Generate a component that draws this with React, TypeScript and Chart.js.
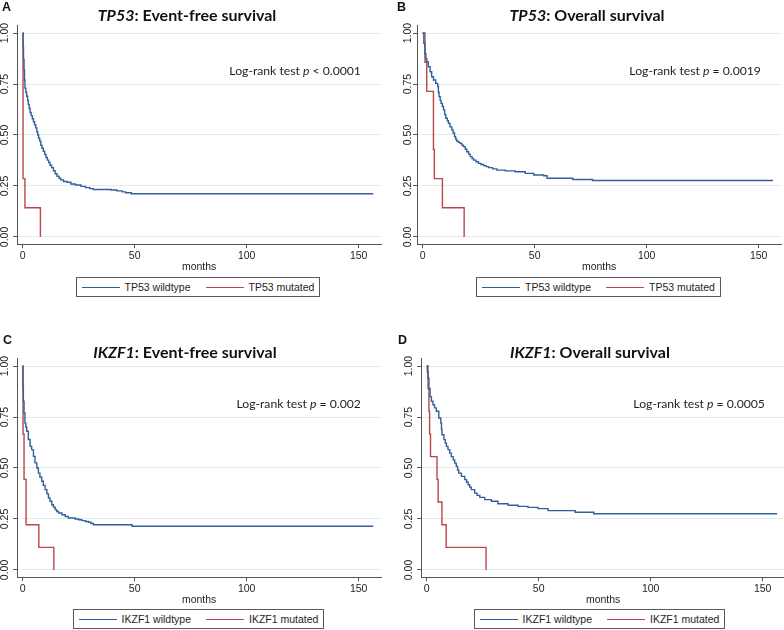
import React, { useEffect, useRef } from 'react';
import { Chart, registerables } from 'chart.js';

Chart.register(...registerables);

// ---------------- data ----------------
const xTickValues = [0, 50, 100, 150];
const yTickValues = [0, 0.25, 0.5, 0.75, 1];
const yTickLabels = ['0.00', '0.25', '0.50', '0.75', '1.00'];
const xAxisTitle = 'months';

const panelLetters = ['A', 'B', 'C', 'D'];
const panelGenes = ['TP53', 'TP53', 'IKZF1', 'IKZF1'];
const panelEndpoints = ['Event-free survival', 'Overall survival', 'Event-free survival', 'Overall survival'];
const logRankPValues = ['< 0.0001', '= 0.0019', '= 0.002', '= 0.0005'];
const wildtypeLabels = ['TP53 wildtype', 'TP53 wildtype', 'IKZF1 wildtype', 'IKZF1 wildtype'];
const mutatedLabels = ['TP53 mutated', 'TP53 mutated', 'IKZF1 mutated', 'IKZF1 mutated'];

// A: TP53 event-free survival
const tp53EfsWildTime = [0, 0.15, 0.35, 0.6, 0.8, 1.0, 1.4, 1.8, 2.2, 2.5, 2.9, 3.3, 3.8, 4.3, 4.8, 5.3, 5.8, 6.3, 6.7, 7.1, 7.6, 8.1, 8.6, 9.2, 9.8, 10.4, 11.0, 11.6, 12.2, 12.9, 13.7, 14.5, 15.3, 16.2, 17.0, 18.2, 19.8, 21.5, 23.5, 26.0, 28.0, 30.0, 31.5, 39.5, 42.0, 44.5, 46.0, 48.5, 156.5];
const tp53EfsWildSurv = [1, 0.93, 0.87, 0.82, 0.77, 0.73, 0.71, 0.69, 0.67, 0.65, 0.63, 0.61, 0.595, 0.58, 0.565, 0.55, 0.535, 0.516, 0.5, 0.484, 0.47, 0.45, 0.435, 0.42, 0.405, 0.39, 0.377, 0.365, 0.352, 0.34, 0.325, 0.31, 0.298, 0.288, 0.28, 0.272, 0.268, 0.26, 0.255, 0.248, 0.242, 0.237, 0.233, 0.23, 0.226, 0.221, 0.217, 0.212, 0.212];
const tp53EfsMutTime = [0, 0.15, 1.0, 7.9];
const tp53EfsMutSurv = [1, 0.286, 0.143, 0];

// B: TP53 overall survival
const tp53OsWildTime = [0, 0.5, 1, 1.4, 1.8, 2.5, 3.3, 4, 4.8, 5.8, 6.7, 7.0, 7.3, 7.8, 8.2, 8.8, 9.3, 9.8, 10.3, 11.0, 11.5, 12.2, 13, 13.6, 14.2, 14.7, 15.2, 16.0, 16.7, 17.5, 18.2, 19.0, 19.7, 20.5, 21.2, 22.0, 22.7, 23.8, 24.9, 26.0, 27.2, 28.3, 29.4, 31.2, 33.1, 36.9, 41.3, 45.8, 49.6, 54, 55.5, 67, 75.8, 156.4];
const tp53OsWildSurv = [1, 0.95, 0.9, 0.875, 0.86, 0.835, 0.81, 0.786, 0.77, 0.753, 0.737, 0.71, 0.688, 0.67, 0.655, 0.64, 0.623, 0.6, 0.582, 0.57, 0.557, 0.54, 0.525, 0.51, 0.492, 0.48, 0.47, 0.464, 0.459, 0.45, 0.443, 0.43, 0.418, 0.406, 0.394, 0.385, 0.377, 0.369, 0.361, 0.355, 0.35, 0.345, 0.34, 0.334, 0.328, 0.324, 0.32, 0.312, 0.304, 0.3, 0.288, 0.282, 0.277, 0.277];
const tp53OsMutTime = [0, 1.0, 1.8, 4.8, 5.2, 8.8, 18.5];
const tp53OsMutSurv = [1, 0.857, 0.714, 0.429, 0.286, 0.143, 0];

// C: IKZF1 event-free survival
const ikzf1EfsWildTime = [0, 0.1, 0.3, 0.6, 1, 1.4, 1.8, 2.5, 3.3, 4, 4.8, 5.5, 6.3, 7, 7.7, 8.5, 9.2, 10, 10.8, 11.5, 12.2, 13, 13.7, 14.5, 15.2, 16, 17.5, 19, 20.4, 23.4, 25, 26.4, 28, 29.4, 30.5, 31.6, 48.8, 156.5];
const ikzf1EfsWildSurv = [1, 0.9, 0.827, 0.77, 0.72, 0.7, 0.68, 0.64, 0.606, 0.59, 0.557, 0.525, 0.5, 0.475, 0.455, 0.435, 0.415, 0.394, 0.373, 0.353, 0.337, 0.32, 0.308, 0.296, 0.287, 0.279, 0.271, 0.262, 0.255, 0.25, 0.246, 0.242, 0.238, 0.234, 0.228, 0.222, 0.214, 0.214];
const ikzf1EfsMutTime = [0, 0.15, 0.6, 1.5, 7.2, 13.9];
const ikzf1EfsMutSurv = [1, 0.667, 0.444, 0.222, 0.111, 0];

// D: IKZF1 overall survival
const ikzf1OsWildTime = [0, 0.3, 0.6, 1, 1.5, 2.1, 2.8, 3.5, 4.3, 5.4, 6.3, 6.6, 6.8, 7.7, 8.3, 8.8, 9.5, 10.3, 11, 11.8, 12.5, 13.2, 13.8, 14.3, 15.5, 17, 17.8, 18.5, 19.2, 19.9, 21.4, 22.5, 23.7, 25.9, 28.9, 31.8, 36.3, 40.8, 45.2, 49.7, 54.2, 66.3, 74.6, 156.4];
const ikzf1OsWildSurv = [1, 0.97, 0.94, 0.89, 0.85, 0.827, 0.81, 0.795, 0.778, 0.745, 0.72, 0.69, 0.663, 0.639, 0.622, 0.606, 0.59, 0.573, 0.556, 0.54, 0.524, 0.508, 0.49, 0.475, 0.459, 0.443, 0.43, 0.418, 0.406, 0.394, 0.377, 0.366, 0.356, 0.345, 0.337, 0.325, 0.317, 0.312, 0.307, 0.301, 0.291, 0.283, 0.276, 0.276];
const ikzf1OsMutTime = [0, 0.6, 1.0, 1.3, 1.7, 4.6, 5.1, 6.8, 8.7, 26.5];
const ikzf1OsMutSurv = [1, 0.889, 0.778, 0.667, 0.556, 0.444, 0.333, 0.222, 0.111, 0];

const wildTimes = [tp53EfsWildTime, tp53OsWildTime, ikzf1EfsWildTime, ikzf1OsWildTime];
const wildSurvs = [tp53EfsWildSurv, tp53OsWildSurv, ikzf1EfsWildSurv, ikzf1OsWildSurv];
const mutTimes = [tp53EfsMutTime, tp53OsMutTime, ikzf1EfsMutTime, ikzf1OsMutTime];
const mutSurvs = [tp53EfsMutSurv, tp53OsMutSurv, ikzf1EfsMutSurv, ikzf1OsMutSurv];

// ---------------- style / layout ----------------
const BLUE = '#30609a';
const RED = '#b9474e';
const AXIS = '#555555';
const GRID = '#e2ebef';
const TEXT = '#1e1e1e';
const TICK_FONT_FAMILY = '"Liberation Sans", Arial, sans-serif';
const X_MIN = -2.5;
const X_MAX = 160;
const Y_MIN = -0.035;
const Y_MAX = 1.035;

type Layout = {
  left: number; top: number; width: number; height: number;
  padL: number; padR: number; padT: number; padB: number;
  yLabelX: number;
  titleX: number; titleTop: number;
  letterX: number; letterTop: number;
  legendLeft: number; legendTop: number; legendWidth: number;
};

const layouts: Layout[] = [
  { left: 0, top: 20, width: 392, height: 256, padL: 13.1, padR: 10.9, padT: 5.9, padB: 3.9, yLabelX: 5.5,
    titleX: 187, titleTop: 6.6, letterX: 2, letterTop: 1.4, legendLeft: 76, legendTop: 277, legendWidth: 244 },
  { left: 392, top: 20, width: 392, height: 256, padL: 21.1, padR: 2.9, padT: 5.9, padB: 3.9, yLabelX: 16.3,
    titleX: 587, titleTop: 6.6, letterX: 397, letterTop: 1.4, legendLeft: 476, legendTop: 277, legendWidth: 245 },
  { left: 0, top: 353, width: 392, height: 256, padL: 13.1, padR: 10.9, padT: 5.9, padB: 3.9, yLabelX: 5.5,
    titleX: 185, titleTop: 343.7, letterX: 3, letterTop: 334.4, legendLeft: 73, legendTop: 609, legendWidth: 251 },
  { left: 392, top: 353, width: 394, height: 256, padL: 25.1, padR: 0.9, padT: 5.9, padB: 3.9, yLabelX: 16.7,
    titleX: 590, titleTop: 343.7, letterX: 398, letterTop: 334.4, legendLeft: 474, legendTop: 609, legendWidth: 251 },
];

function zip(t: number[], s: number[]) {
  const n = Math.min(t.length, s.length);
  const out: { x: number; y: number }[] = [];
  for (let i = 0; i < n; i++) out.push({ x: t[i], y: s[i] });
  return out;
}

const yLabelPlugin = {
  id: 'yLabels',
  afterDraw(chart: any, _args: any, opts: any) {
    const ys = chart.scales.y;
    const ctx = chart.ctx;
    ctx.save();
    ctx.font = `10.5px ${TICK_FONT_FAMILY}`;
    ctx.fillStyle = TEXT;
    ctx.textAlign = 'center';
    ctx.textBaseline = 'middle';
    yTickValues.forEach((v, i) => {
      const py = ys.getPixelForValue(v);
      ctx.save();
      ctx.translate(opts.x, py);
      ctx.rotate(-Math.PI / 2);
      ctx.fillText(yTickLabels[i], 0, 0);
      ctx.restore();
    });
    ctx.restore();
  },
};

const logRankPlugin = {
  id: 'logRank',
  afterDatasetsDraw(chart: any, _args: any, opts: any) {
    const ctx = chart.ctx;
    const right = chart.scales.x.getPixelForValue(opts.atX);
    const y = chart.scales.y.getPixelForValue(opts.atY);
    const normal = '12.2px Lato, "Open Sans", sans-serif';
    const italic = 'italic 12.2px Lato, "Open Sans", sans-serif';
    const parts: [string, string][] = [['Log-rank test ', normal], ['p', italic], [' ' + opts.pText, normal]];
    ctx.save();
    ctx.fillStyle = TEXT;
    ctx.textBaseline = 'middle';
    ctx.textAlign = 'left';
    let total = 0;
    parts.forEach(([t, f]) => { ctx.font = f; total += ctx.measureText(t).width; });
    let x = right - total;
    parts.forEach(([t, f]) => { ctx.font = f; ctx.fillText(t, x, y); x += ctx.measureText(t).width; });
    ctx.restore();
  },
};

function Panel({ idx }: { idx: number }) {
  const ref = useRef<HTMLCanvasElement | null>(null);
  const L = layouts[idx];
  useEffect(() => {
    if (!ref.current) return;
    const tickFont = { family: TICK_FONT_FAMILY, size: 10.5, lineHeight: 1 };
    const chart = new Chart(ref.current, {
      type: 'line',
      data: {
        datasets: [
          {
            label: wildtypeLabels[idx],
            data: zip(wildTimes[idx], wildSurvs[idx]),
            borderColor: BLUE,
            borderWidth: 1.4,
            stepped: true,
            pointRadius: 0,
            fill: false,
          },
          {
            label: mutatedLabels[idx],
            data: zip(mutTimes[idx], mutSurvs[idx]),
            borderColor: RED,
            borderWidth: 1.4,
            stepped: true,
            pointRadius: 0,
            fill: false,
          },
        ],
      },
      options: {
        responsive: false,
        animation: false,
        devicePixelRatio: 1,
        layout: { padding: { left: L.padL, right: L.padR, top: L.padT, bottom: L.padB } },
        plugins: {
          legend: { display: false },
          tooltip: { enabled: false },
          yLabels: { x: L.yLabelX },
          logRank: { atX: 151, atY: 0.815, pText: logRankPValues[idx] },
        } as any,
        scales: {
          x: {
            type: 'linear',
            min: X_MIN,
            max: X_MAX,
            afterBuildTicks: (s: any) => { s.ticks = xTickValues.map((v) => ({ value: v })); },
            afterFit: (s: any) => { s.height = 28; },
            grid: { drawOnChartArea: false, drawTicks: true, tickLength: 4, tickColor: AXIS },
            border: { color: AXIS, width: 1 },
            ticks: { font: tickFont, color: TEXT, padding: 3, maxRotation: 0, autoSkip: false },
            title: { display: true, text: xAxisTitle, font: tickFont, color: TEXT, padding: 0 },
          },
          y: {
            type: 'linear',
            min: Y_MIN,
            max: Y_MAX,
            afterBuildTicks: (s: any) => { s.ticks = yTickValues.map((v) => ({ value: v })); },
            afterFit: (s: any) => { s.width = 4; },
            grid: { color: GRID, drawTicks: true, tickLength: 4, tickColor: AXIS },
            border: { color: AXIS, width: 1 },
            ticks: { display: false },
          },
        },
      } as any,
      plugins: [yLabelPlugin, logRankPlugin],
    });
    return () => chart.destroy();
  }, [idx]);

  return (
    <canvas
      ref={ref}
      width={L.width}
      height={L.height}
      style={{ position: 'absolute', left: L.left, top: L.top, width: L.width, height: L.height }}
    />
  );
}

function Legend({ idx }: { idx: number }) {
  const L = layouts[idx];
  const lineStyle = (c: string): React.CSSProperties => ({ width: 38, height: 0, borderTop: `1.5px solid ${c}`, flex: '0 0 auto' });
  return (
    <div
      style={{
        position: 'absolute', left: L.legendLeft, top: L.legendTop, width: L.legendWidth, height: 20,
        boxSizing: 'border-box', border: '1px solid #5a5a5a', background: '#fff',
        display: 'flex', alignItems: 'center', justifyContent: 'center',
        font: `10.5px ${TICK_FONT_FAMILY}`, color: TEXT, whiteSpace: 'nowrap',
      }}
    >
      <div style={lineStyle(BLUE)} />
      <span style={{ marginLeft: 5 }}>{wildtypeLabels[idx]}</span>
      <div style={{ ...lineStyle(RED), marginLeft: 15 }} />
      <span style={{ marginLeft: 5 }}>{mutatedLabels[idx]}</span>
    </div>
  );
}

export default function App() {
  return (
    <div style={{ position: 'absolute', left: 0, top: 0, width: 784, height: 630, overflow: 'hidden', background: '#fff' }}>
      {[0, 1, 2, 3].map((i) => (
        <Panel key={'p' + i} idx={i} />
      ))}
      {[0, 1, 2, 3].map((i) => (
        <Legend key={'l' + i} idx={i} />
      ))}
      {[0, 1, 2, 3].map((i) => (
        <div
          key={'t' + i}
          style={{
            position: 'absolute', left: layouts[i].titleX, top: layouts[i].titleTop, transform: 'translateX(-50%)',
            whiteSpace: 'nowrap', font: 'bold 16px Lato, "Open Sans", sans-serif', lineHeight: '16px', color: '#111',
          }}
        >
          <i>{panelGenes[i]}</i>: {panelEndpoints[i]}
        </div>
      ))}
      {[0, 1, 2, 3].map((i) => (
        <div
          key={'a' + i}
          style={{
            position: 'absolute', left: layouts[i].letterX, top: layouts[i].letterTop,
            font: `bold 12.5px ${TICK_FONT_FAMILY}`, lineHeight: '12.5px', color: '#111',
          }}
        >
          {panelLetters[i]}
        </div>
      ))}
    </div>
  );
}
